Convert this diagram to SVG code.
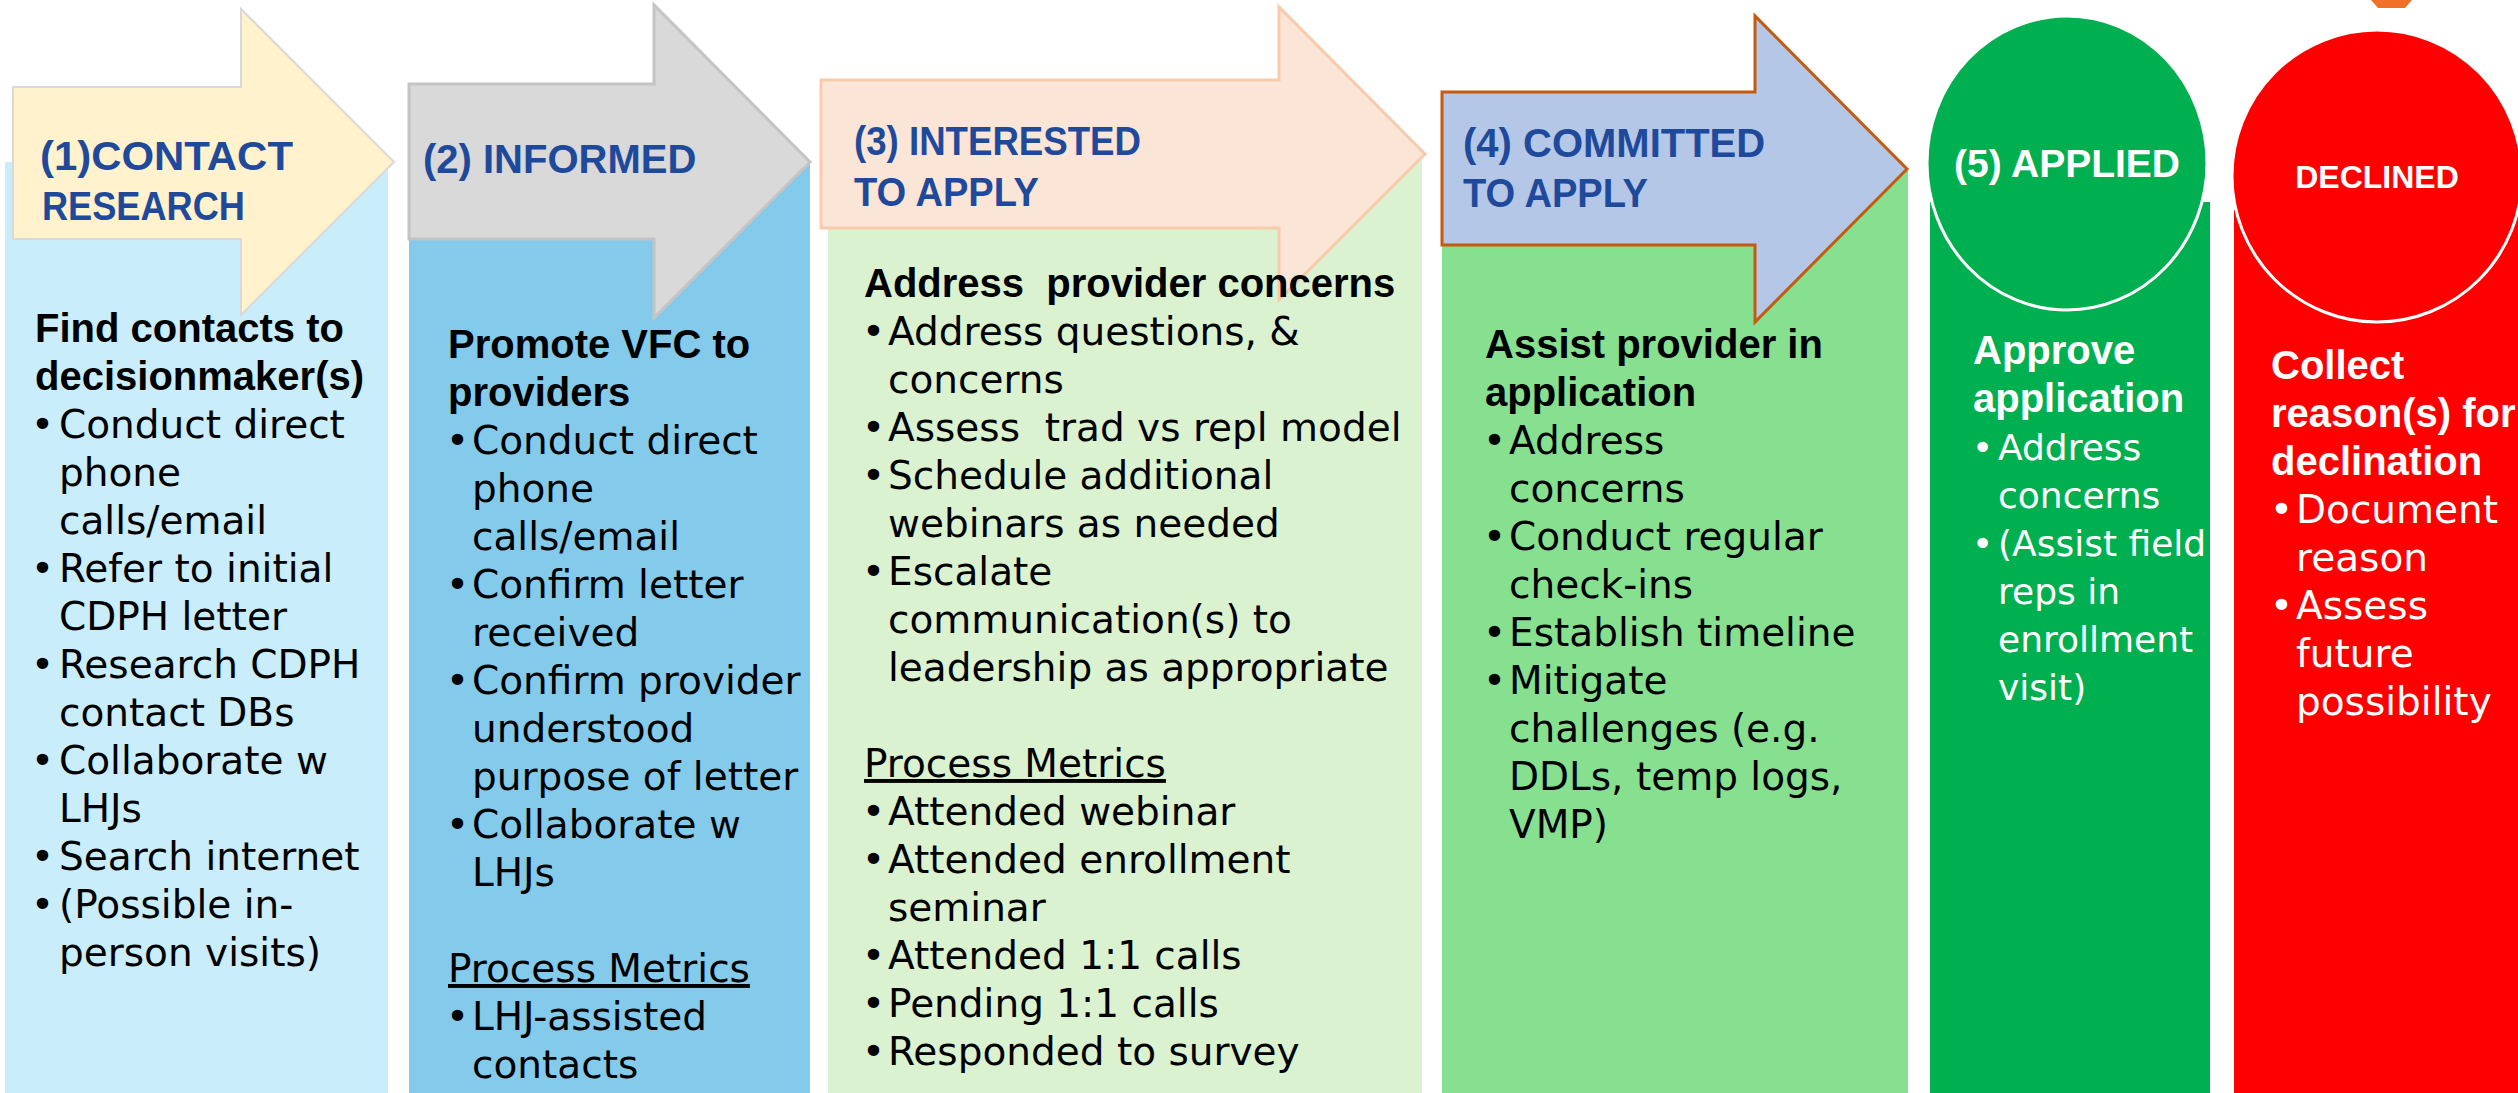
<svg xmlns="http://www.w3.org/2000/svg" width="2518" height="1093" viewBox="0 0 2518 1093">
<style>
.lbl{font-family:"Liberation Sans",Arial,sans-serif;font-weight:bold;font-size:40px;fill:#1F4A9C}
.wl{font-family:"Liberation Sans",Arial,sans-serif;font-weight:bold;fill:#FFFFFF}
.hd{font-family:"Liberation Sans",Arial,sans-serif;font-weight:bold;font-size:40px;fill:#000000}
.bd{font-family:"DejaVu Sans",sans-serif;font-size:39px;fill:#000000;white-space:pre}
.sm{font-size:36px}
.w{fill:#FFFFFF}
.ul{text-decoration:underline}
</style>
<rect x="0" y="0" width="2518" height="1093" fill="#FFFFFF"/>
<polygon points="2371,0 2412,0 2405,8 2378,8" fill="#F07028"/>

<g id="stage1">
<rect x="5" y="162" width="383" height="931" fill="#CAEDFB"/>
<polygon points="13,87 241,87 241,9 394,162 241,315 241,239 13,239" fill="#FFF2CC" stroke="#D9D9D9" stroke-width="2"/>
<text class="lbl" x="40" y="170" textLength="253" lengthAdjust="spacingAndGlyphs">(1)CONTACT</text>
<text class="lbl" x="42" y="220" textLength="203" lengthAdjust="spacingAndGlyphs">RESEARCH</text>
<text class="hd"><tspan x="35" y="342">Find contacts to</tspan><tspan x="35" y="390">decisionmaker(s)</tspan></text>
<text class="bd"><tspan x="31" y="438">•</tspan><tspan x="59" y="438">Conduct direct</tspan><tspan x="59" y="486">phone</tspan><tspan x="59" y="534">calls/email</tspan><tspan x="31" y="582">•</tspan><tspan x="59" y="582">Refer to initial</tspan><tspan x="59" y="630">CDPH letter</tspan><tspan x="31" y="678">•</tspan><tspan x="59" y="678">Research CDPH</tspan><tspan x="59" y="726">contact DBs</tspan><tspan x="31" y="774">•</tspan><tspan x="59" y="774">Collaborate w</tspan><tspan x="59" y="822">LHJs</tspan><tspan x="31" y="870">•</tspan><tspan x="59" y="870">Search internet</tspan><tspan x="31" y="918">•</tspan><tspan x="59" y="918">(Possible in-</tspan><tspan x="59" y="966">person visits)</tspan></text>
</g>

<g id="stage2">
<rect x="409" y="162" width="401" height="931" fill="#83CAEB"/>
<polygon points="409,84 654,84 654,5 810,162 654,318 654,239 409,239" fill="#D9D9D9" stroke="#C4C4C4" stroke-width="3"/>
<text class="lbl" x="423" y="173">(2) INFORMED</text>
<text class="hd"><tspan x="448" y="358">Promote VFC to</tspan><tspan x="448" y="406">providers</tspan></text>
<text class="bd"><tspan x="446" y="454">•</tspan><tspan x="472" y="454">Conduct direct</tspan><tspan x="472" y="502">phone</tspan><tspan x="472" y="550">calls/email</tspan><tspan x="446" y="598">•</tspan><tspan x="472" y="598">Confirm letter</tspan><tspan x="472" y="646">received</tspan><tspan x="446" y="694">•</tspan><tspan x="472" y="694">Confirm provider</tspan><tspan x="472" y="742">understood</tspan><tspan x="472" y="790">purpose of letter</tspan><tspan x="446" y="838">•</tspan><tspan x="472" y="838">Collaborate w</tspan><tspan x="472" y="886">LHJs</tspan></text>
<text class="bd ul" x="448" y="982">Process Metrics</text>
<text class="bd"><tspan x="446" y="1030">•</tspan><tspan x="472" y="1030">LHJ-assisted</tspan><tspan x="472" y="1078">contacts</tspan></text>
</g>

<g id="stage3">
<rect x="828" y="160" width="594" height="933" fill="#DAF2D0"/>
<polygon points="821,80 1279,80 1279,7 1425,154 1279,300 1279,228 821,228" fill="#FBE5D6" stroke="#F8CBAD" stroke-width="3"/>
<text class="lbl" x="854" y="155" textLength="287" lengthAdjust="spacingAndGlyphs">(3) INTERESTED</text>
<text class="lbl" x="854" y="206" textLength="185" lengthAdjust="spacingAndGlyphs">TO APPLY</text>
<text class="hd" x="864" y="297" style="white-space:pre">Address  provider concerns</text>
<text class="bd"><tspan x="862" y="345">•</tspan><tspan x="888" y="345">Address questions, &amp;</tspan><tspan x="888" y="393">concerns</tspan><tspan x="862" y="441">•</tspan><tspan x="888" y="441">Assess  trad vs repl model</tspan><tspan x="862" y="489">•</tspan><tspan x="888" y="489">Schedule additional</tspan><tspan x="888" y="537">webinars as needed</tspan><tspan x="862" y="585">•</tspan><tspan x="888" y="585">Escalate</tspan><tspan x="888" y="633">communication(s) to</tspan><tspan x="888" y="681">leadership as appropriate</tspan></text>
<text class="bd ul" x="864" y="777">Process Metrics</text>
<text class="bd"><tspan x="862" y="825">•</tspan><tspan x="888" y="825">Attended webinar</tspan><tspan x="862" y="873">•</tspan><tspan x="888" y="873">Attended enrollment</tspan><tspan x="888" y="921">seminar</tspan><tspan x="862" y="969">•</tspan><tspan x="888" y="969">Attended 1:1 calls</tspan><tspan x="862" y="1017">•</tspan><tspan x="888" y="1017">Pending 1:1 calls</tspan><tspan x="862" y="1065">•</tspan><tspan x="888" y="1065">Responded to survey</tspan></text>
</g>

<g id="stage4">
<rect x="1442" y="169" width="466" height="924" fill="#86E08F"/>
<polygon points="1442,92 1755,92 1755,16 1907,169 1755,322 1755,245 1442,245" fill="#B4C7E7" stroke="#C55A11" stroke-width="3"/>
<text class="lbl" x="1463" y="157">(4) COMMITTED</text>
<text class="lbl" x="1463" y="207" textLength="185" lengthAdjust="spacingAndGlyphs">TO APPLY</text>
<text class="hd"><tspan x="1485" y="358">Assist provider in</tspan><tspan x="1485" y="406">application</tspan></text>
<text class="bd"><tspan x="1483" y="454">•</tspan><tspan x="1509" y="454">Address</tspan><tspan x="1509" y="502">concerns</tspan><tspan x="1483" y="550">•</tspan><tspan x="1509" y="550">Conduct regular</tspan><tspan x="1509" y="598">check-ins</tspan><tspan x="1483" y="646">•</tspan><tspan x="1509" y="646">Establish timeline</tspan><tspan x="1483" y="694">•</tspan><tspan x="1509" y="694">Mitigate</tspan><tspan x="1509" y="742">challenges (e.g.</tspan><tspan x="1509" y="790">DDLs, temp logs,</tspan><tspan x="1509" y="838">VMP)</tspan></text>
</g>

<g id="stage5">
<rect x="1930" y="202" width="280" height="891" fill="#00B050"/>
<ellipse cx="2067" cy="163" rx="140" ry="147" fill="#00B050" stroke="#FFFFFF" stroke-width="3"/>
<text class="wl" x="2067" y="177" font-size="39" text-anchor="middle">(5) APPLIED</text>
<text class="hd w"><tspan x="1973" y="364">Approve</tspan><tspan x="1973" y="412">application</tspan></text>
<text class="bd sm w"><tspan x="1972" y="460">•</tspan><tspan x="1998" y="460">Address</tspan><tspan x="1998" y="508">concerns</tspan><tspan x="1972" y="556">•</tspan><tspan x="1998" y="556">(Assist field</tspan><tspan x="1998" y="604">reps in</tspan><tspan x="1998" y="652">enrollment</tspan><tspan x="1998" y="700">visit)</tspan></text>
</g>

<g id="declined">
<rect x="2234" y="210" width="284" height="883" fill="#FF0000"/>
<ellipse cx="2377" cy="176" rx="145" ry="146" fill="#FF0000" stroke="#FFFFFF" stroke-width="3"/>
<text class="wl" x="2377" y="188" font-size="32" text-anchor="middle">DECLINED</text>
<text class="hd w"><tspan x="2271" y="379">Collect</tspan><tspan x="2271" y="427">reason(s) for</tspan><tspan x="2271" y="475">declination</tspan></text>
<text class="bd w"><tspan x="2270" y="523">•</tspan><tspan x="2296" y="523">Document</tspan><tspan x="2296" y="571">reason</tspan><tspan x="2270" y="619">•</tspan><tspan x="2296" y="619">Assess</tspan><tspan x="2296" y="667">future</tspan><tspan x="2296" y="715">possibility</tspan></text>
</g>

<g id="connectors"></g>
</svg>
